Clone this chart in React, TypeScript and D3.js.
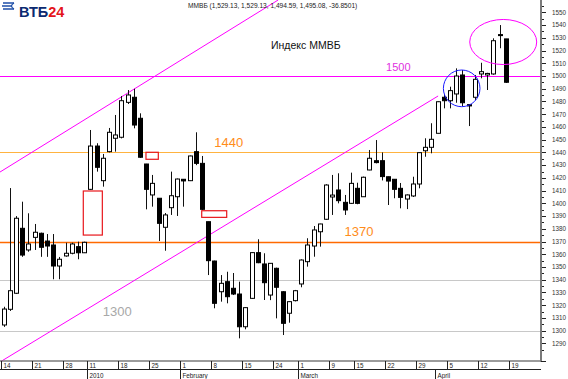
import React from "react";
import * as d3 from "d3";

// ---------- DATA ----------
const dates: string[] = [
  "2009-12-14","2009-12-15","2009-12-16","2009-12-17","2009-12-18",
  "2009-12-21","2009-12-22","2009-12-23","2009-12-24","2009-12-25",
  "2009-12-28","2009-12-29","2009-12-30","2009-12-31",
  "2010-01-11","2010-01-12","2010-01-13","2010-01-14","2010-01-15",
  "2010-01-18","2010-01-19","2010-01-20","2010-01-21","2010-01-22",
  "2010-01-25","2010-01-26","2010-01-27","2010-01-28","2010-01-29",
  "2010-02-01","2010-02-02","2010-02-03","2010-02-04","2010-02-05",
  "2010-02-08","2010-02-09","2010-02-10","2010-02-11","2010-02-12",
  "2010-02-15","2010-02-16","2010-02-17","2010-02-18","2010-02-19",
  "2010-02-24","2010-02-25","2010-02-26","2010-02-27",
  "2010-03-01","2010-03-02","2010-03-03","2010-03-04","2010-03-05",
  "2010-03-09","2010-03-10","2010-03-11","2010-03-12",
  "2010-03-15","2010-03-16","2010-03-17","2010-03-18","2010-03-19",
  "2010-03-22","2010-03-23","2010-03-24","2010-03-25","2010-03-26",
  "2010-03-29","2010-03-30","2010-03-31","2010-04-01","2010-04-02",
  "2010-04-05","2010-04-06","2010-04-07","2010-04-08","2010-04-09",
  "2010-04-12","2010-04-13","2010-04-14","2010-04-15","2010-04-16",
];
const axisSlots: string[] = [...dates, "2010-04-19"];

const opens: number[] = [
  1304.5,1316.8,1329.4,1380.4,1363.4,1373.3,1376.5,1370.4,1367.3,1350.8,
  1358.7,1360.8,1366,1361.2,1411,1445,1417.8,1440.6,1451.1,1451.9,
  1479.3,1483.3,1466.8,1430.9,1406.6,1404,1381.2,1396.6,1405.2,1418.9,
  1417.8,1440.6,1431.4,1385.6,1354.7,1330.6,1338.5,1333.3,1328.8,1303.1,
  1325.4,1361.3,1352.4,1328,1349,1330.6,1313.7,1323.6,1336.7,1354.2,
  1366.5,1377.7,1387.5,1405,1410.5,1400.8,1400,1411.8,1405.2,1426.2,
  1433.5,1433.5,1420.9,1418.9,1411.8,1403.4,1405.8,1415.2,1441.3,1444,
  1455,1483.3,1480.6,1485.9,1500.8,1477.5,1483.3,1501.6,1500.8,1501.6,
  1532.5,1529.13,
];
const highs: number[] = [
  1318.8,1412,1390,1401.3,1392.2,1383.8,1377,1375.9,1375.9,1357.9,
  1369.1,1369.1,1369.9,1369.9,1457.6,1447.2,1438.8,1459.2,1469.4,1484.3,
  1489,1490,1470.7,1431,1422.3,1404,1392.4,1424.9,1419.5,1419.1,
  1437.5,1455.8,1437.2,1385.6,1355,1343.7,1346.3,1345.3,1338.5,1318.5,
  1361.5,1371.8,1360.8,1353,1349.5,1331,1323,1332,1356,1372.6,
  1382.2,1384,1415,1422.3,1423.6,1406.6,1424.1,1416.2,1421,1441.9,
  1449.7,1440,1421,1419,1416,1407,1420.9,1440,1451.1,1462.9,
  1480,1485.9,1491.6,1506,1504.7,1478,1500.8,1510.4,1502.5,1529.6,
  1540,1529.13,
];
const lows: number[] = [
  1303,1315.5,1328.8,1358,1362,1363.4,1358,1358,1340.4,1340.4,
  1358.1,1360,1356.1,1361,1410.5,1424.9,1413.1,1440,1440.6,1451,
  1478,1458.9,1435.6,1395.3,1397.4,1370.4,1362.8,1390.9,1390.1,1397.4,
  1417.5,1430,1394.8,1343.7,1317.6,1322.8,1321.5,1328,1294,1301.1,
  1325,1353,1324.1,1324,1309.7,1296.6,1306.3,1323,1334.1,1350.3,
  1358.1,1366,1387,1390.9,1400,1390.9,1399.5,1399.3,1405,1426,
  1431.4,1418,1398.7,1404,1396.1,1395.5,1405,1411.8,1436.6,1439.3,
  1455,1474.6,1474.6,1479,1476.4,1460.7,1481.2,1498.2,1489,1501,
  1521.8,1494.59,
];
const closes: number[] = [
  1317,1331.4,1388.3,1359.4,1368.1,1377.3,1365.5,1366.5,1350.8,1356.1,
  1360.8,1368.1,1361.2,1369.4,1445,1428.3,1435.4,1455.8,1453.7,1480.6,
  1485.1,1461.5,1436.2,1411,1415.7,1384.3,1390.9,1406,1419.1,1417.6,
  1437.2,1431.4,1395.3,1355,1321.5,1337.2,1326.7,1328.8,1303.1,1318.1,
  1361.3,1353.4,1337.7,1352.9,1334.1,1305.8,1322.8,1331.4,1355.5,1367.3,
  1379.1,1383.8,1414.4,1406.5,1402.1,1394.8,1415.7,1400,1420.5,1435.4,
  1432,1421,1417.5,1411,1404.7,1406.6,1415.2,1439.8,1444,1450.3,
  1479.8,1480.6,1488.5,1500,1479,1476.5,1497.4,1503.4,1502,1527.7,
  1531.8,1495.08,
];

// week tick labels (first trading day of each week)
const weekTickDates: string[] = [
  "2009-12-14","2009-12-21","2009-12-28","2010-01-11","2010-01-18","2010-01-25",
  "2010-02-01","2010-02-08","2010-02-15","2010-02-24","2010-03-01","2010-03-09",
  "2010-03-15","2010-03-22","2010-03-29","2010-04-05","2010-04-12","2010-04-19",
];
const weekTickLabels: string[] = [
  "14","21","28","11","18","25","1","8","15","24","1","9","15","22","29","5","12","19",
];
const periodTickDates: string[] = ["2010-01-11","2010-02-01","2010-03-01","2010-04-01"];
const periodTickLabels: string[] = ["2010","February","March","April"];

const yTickValues: number[] = d3.range(1290, 1551, 10);
const yMinorValues: number[] = d3.range(1285, 1556, 5);

// horizontal levels
const levelValues: number[] = [1500, 1440, 1370, 1340, 1300];
const levelColors: string[] = ["#ff00ff", "#ffb340", "#ff6a00", "#c8c8c8", "#c8c8c8"];

// level captions: [slot index, price]
const levelLabelTexts: string[] = ["1500", "1440", "1370", "1300"];
const levelLabelPos: [number, number][] = [[61.7, 1506], [34, 1447], [55, 1377], [16, 1314]];
const levelLabelColors: string[] = ["#e030e0", "#ff8c1a", "#ff8c1a", "#a8a8a8"];

// channel lines: [slot index, price] pairs
const channelUpper: [number, number][] = [[-0.56, 1424.6], [44.3, 1559.7]];
const channelLower: [number, number][] = [[-0.5, 1275.6], [70.1, 1484.3]];

// gap boxes: [idx0, idx1, priceTop, priceBottom]
const gapBoxes: [number, number, number, number][] = [
  [12.87, 15.94, 1409.7, 1375.1],
  [22.98, 24.97, 1440.1, 1434.6],
  [31.97, 36.0, 1394.2, 1389.0],
];

// ellipses: [centerIdx, centerPrice, rxIdx, ryPrice]
const ellipseBlue: [number, number, number, number] = [73.9, 1490.3, 2.95, 14.4];
const ellipsePink: [number, number, number, number] = [80.6, 1526.7, 5.4, 17.7];

const titleText = "ММВБ (1,529.13, 1,529.13, 1,494.59, 1,495.08, -36.8501)";
const captionText = "Индекс ММВБ";

// ---------- CHART ----------
const W = 568, H = 379;
const plotRight = 541, plotBottom = 361;
const FONT = "'Liberation Sans', Arial, sans-serif";

export default function App() {
  const x = d3.scalePoint<string>().domain(axisSlots).range([3.5, 3.5 + 82 * 6.2]);
  const step = x.step();
  const xi = (i: number) => 3.5 + i * step;
  const y = d3.scaleLinear().domain([1300, 1500]).range([330.7, 76]);

  const line = d3.line<[number, number]>().x(d => xi(d[0])).y(d => y(d[1]));
  const bw = 4;

  return (
    <svg width={W} height={H} style={{ position: "absolute", left: 0, top: 0, background: "#fff" }}
      fontFamily={FONT}>
      <defs>
        <clipPath id="plot"><rect x={0} y={0} width={plotRight} height={plotBottom} /></clipPath>
      </defs>
      <rect x={0} y={0} width={W} height={H} fill="#fff" />

      <g clipPath="url(#plot)">
        {/* level lines */}
        {levelValues.map((v, i) => (
          <line key={"lv" + i} x1={0} x2={plotRight} y1={Math.round(y(v)) + 0.5} y2={Math.round(y(v)) + 0.5}
            stroke={levelColors[i]} strokeWidth={v === 1370 ? 1.5 : 1} />
        ))}
        {/* channel */}
        <path d={line(channelUpper) || ""} stroke="#ff00ff" strokeWidth={1} fill="none" />
        <path d={line(channelLower) || ""} stroke="#ff00ff" strokeWidth={1} fill="none" />

        {/* candles */}
        {dates.map((dt, i) => {
          const cx = Math.round(x(dt)!) + 0.5;
          const o = opens[i], c = closes[i];
          const up = c >= o;
          const top = y(Math.max(o, c)), bot = y(Math.min(o, c));
          const h = Math.max(1, bot - top);
          return (
            <g key={dt}>
              <line x1={cx} x2={cx} y1={y(highs[i])} y2={y(lows[i])} stroke="#111" strokeWidth={1} />
              <rect x={cx - bw / 2} y={top} width={bw} height={h}
                fill={up ? "#fff" : "#000"} stroke="#000" strokeWidth={1} />
            </g>
          );
        })}

        {/* gap boxes */}
        {gapBoxes.map((b, i) => (
          <rect key={"gb" + i} x={xi(b[0])} y={y(b[2])} width={xi(b[1]) - xi(b[0])} height={y(b[3]) - y(b[2])}
            fill="none" stroke="#e8161b" strokeWidth={1.2} />
        ))}

        {/* ellipses */}
        {[ellipseBlue, ellipsePink].map((e, i) => (
          <ellipse key={"el" + i} cx={xi(e[0])} cy={y(e[1])} rx={e[2] * step} ry={y(e[1] - e[3]) - y(e[1])}
            fill="none" stroke={i === 0 ? "#1a1aff" : "#ff00ff"} strokeWidth={1} />
        ))}

        {/* level captions */}
        {levelLabelTexts.map((t, i) => (
          <text key={"ll" + i} x={xi(levelLabelPos[i][0])} y={y(levelLabelPos[i][1])}
            fill={levelLabelColors[i]} fontSize={i === 0 ? 11 : 13} dominantBaseline="middle">{t}</text>
        ))}
        <text x={271} y={46} fontSize={10.5} fill="#111" dominantBaseline="middle">{captionText}</text>
      </g>

      {/* title */}
      <text x={188} y={8} fontSize={6.6} fill="#222">{titleText}</text>

      {/* logo */}
      <g>
        <path d="M3,3 L14,3 M2,6 L12,6 M3,9 L14,9" stroke="#1f4fa8" strokeWidth={1.5} fill="none" />
        <path d="M14,3 Q9,6 14,9" stroke="#1f4fa8" strokeWidth={1.2} fill="none" />
        <text x={19} y={16.5} fontSize={14.5} fontWeight="bold" fill="#0b2a70">ВТБ<tspan fill="#e4141b">24</tspan></text>
      </g>

      {/* right axis */}
      <line x1={plotRight} x2={plotRight} y1={0} y2={plotBottom + 1} stroke="#7a7a7a" strokeWidth={2} />
      {yMinorValues.map(v => (
        <line key={"ym" + v} x1={plotRight + 1} x2={plotRight + 3} y1={Math.round(y(v)) + 0.5} y2={Math.round(y(v)) + 0.5}
          stroke="#222" strokeWidth={1} />
      ))}
      {yTickValues.map(v => (
        <g key={"yt" + v}>
          <line x1={plotRight + 1} x2={plotRight + 5} y1={Math.round(y(v)) + 0.5} y2={Math.round(y(v)) + 0.5}
            stroke="#222" strokeWidth={1} />
          <text x={552} y={y(v) + 2.3} fontSize={6.3} fill="#333">{v}</text>
        </g>
      ))}
      <line x1={plotRight} x2={plotRight + 5} y1={plotBottom + 0.5} y2={plotBottom + 0.5} stroke="#222" />

      {/* bottom axis */}
      <line x1={0} x2={plotRight} y1={plotBottom} y2={plotBottom} stroke="#7a7a7a" strokeWidth={1.5} />
      <line x1={0} x2={plotRight} y1={369.5} y2={369.5} stroke="#222" strokeWidth={1} />
      {weekTickDates.map((dt, i) => {
        const sx = Math.round(x(dt)! - 3) + 0.5;
        return (
          <g key={"wt" + i}>
            <line x1={sx} x2={sx} y1={plotBottom} y2={369.5} stroke="#222" strokeWidth={1} />
            <text x={sx + 2} y={367.5} fontSize={6.3} fill="#222">{weekTickLabels[i]}</text>
          </g>
        );
      })}
      {periodTickDates.map((dt, i) => {
        const sx = Math.round(x(dt)! - 3) + 0.5;
        return (
          <g key={"pt" + i}>
            <line x1={sx} x2={sx} y1={369.5} y2={379} stroke="#222" strokeWidth={1} />
            <text x={sx + 2} y={377.5} fontSize={6.3} fill="#222">{periodTickLabels[i]}</text>
          </g>
        );
      })}
    </svg>
  );
}
